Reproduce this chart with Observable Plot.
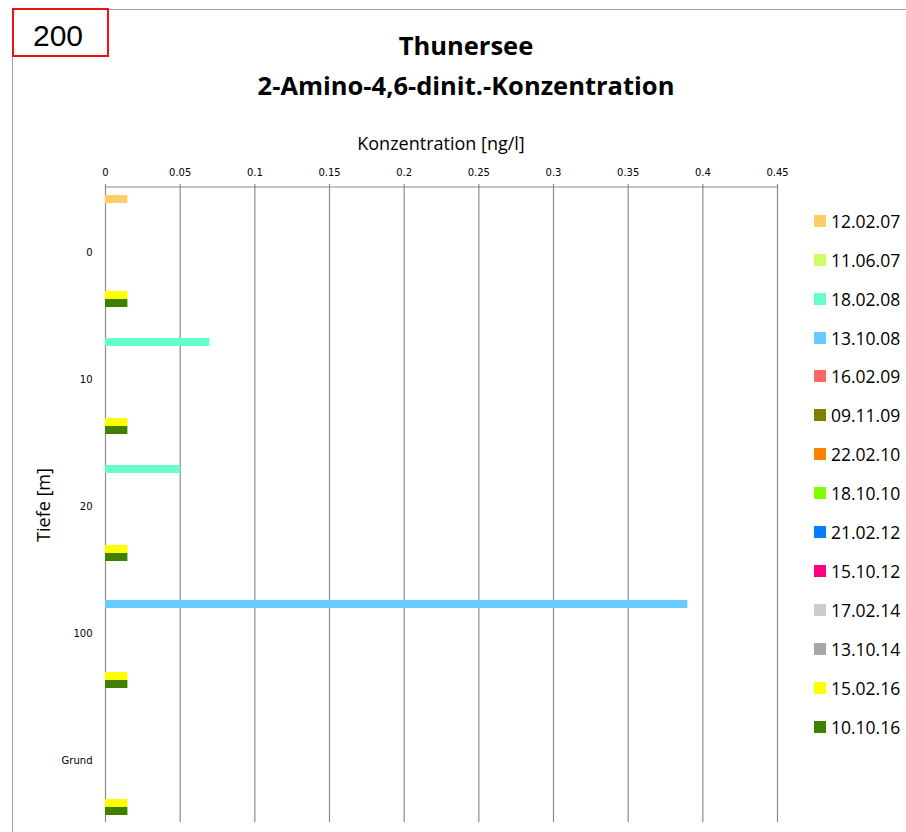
<!DOCTYPE html>
<html>
<head>
<meta charset="utf-8">
<script src="https://cdn.jsdelivr.net/npm/d3@7"></script>
<script src="https://cdn.jsdelivr.net/npm/@observablehq/plot@0.6"></script>
<style>
  html, body { margin: 0; padding: 0; background: #fff; }
  #wrap { position: relative; width: 906px; height: 832px; overflow: hidden; font-family: "Open Sans", sans-serif; color: #000; }
  #chart { position: absolute; left: 0; top: 0; }
  .frameTop { position: absolute; left: 13px; top: 9px; width: 893px; height: 0; border-top: 1.5px solid #a0a0a0; }
  .frameLeft { position: absolute; left: 12px; top: 9px; width: 0; height: 823px; border-left: 1.5px solid #a0a0a0; }
  .badge { position: absolute; left: 12px; top: 8px; width: 93px; height: 45px; border: 2px solid #ee1111; background: #fff;
           font-family: "Liberation Sans", Arial, sans-serif; font-size: 30px; line-height: 45px; box-sizing: content-box; }
  .badge span { position: absolute; left: 19px; top: 3px; }
  .title { position: absolute; left: 0; width: 932px; text-align: center; font-weight: 700; font-size: 25.5px; line-height: 30px; }
  .xlabel { position: absolute; left: 241px; width: 400px; text-align: center; top: 131px; font-size: 18px; line-height: 24px; }
  .ylabel { position: absolute; left: 43px; top: 505px; transform: translate(-50%, -50%) rotate(-90deg); font-size: 18px; white-space: nowrap; }
  .leg { position: absolute; left: 814px; font-size: 17.5px; line-height: 24px; white-space: nowrap; }
  .leg i { position: absolute; left: 0; top: 6px; width: 12px; height: 12px; }
  .leg b { position: absolute; left: 17px; top: 0; font-weight: 400; }
</style>
</head>
<body>
<div id="wrap">
  <div class="frameTop"></div>
  <div class="frameLeft"></div>
  <div class="badge"><span>200</span></div>
  <div class="title" style="top:30px">Thunersee</div>
  <div class="title" style="top:70px">2-Amino-4,6-dinit.-Konzentration</div>
  <div class="xlabel">Konzentration [ng/l]</div>
  <div class="ylabel">Tiefe [m]</div>
  <div id="chart"></div>
  <div id="legend"></div>
</div>
<script>
// Depth categories (y groups)
const depths = ["0", "10", "20", "100", "Grund"];
// Sampling dates (series)
const dates = ["12.02.07", "11.06.07", "18.02.08", "13.10.08", "16.02.09", "09.11.09", "22.02.10",
               "18.10.10", "21.02.12", "15.10.12", "17.02.14", "13.10.14", "15.02.16", "10.10.16"];
const colors = ["#FFCC66", "#CCFF66", "#66FFCC", "#66CCFF", "#FF6666", "#808000", "#FF8000",
                "#80FF00", "#0080FF", "#FF0080", "#CCCCCC", "#A6A6A6", "#FFFF00", "#408000"];
// Concentration per series, one value per depth (0, 10, 20, 100, Grund); null = not shown
const s120207 = [0.015, null, null, null, null];
const s110607 = [null, null, null, null, null];
const s180208 = [null, 0.07, 0.05, null, null];
const s131008 = [null, null, null, 0.39, null];
const s160209 = [null, null, null, null, null];
const s091109 = [null, null, null, null, null];
const s220210 = [null, null, null, null, null];
const s181010 = [null, null, null, null, null];
const s210212 = [null, null, null, null, null];
const s151012 = [null, null, null, null, null];
const s170214 = [null, null, null, null, null];
const s131014 = [null, null, null, null, null];
const s150216 = [0.015, 0.015, 0.015, 0.015, 0.015];
const s101016 = [0.015, 0.015, 0.015, 0.015, 0.015];
const xTicks = [0, 0.05, 0.1, 0.15, 0.2, 0.25, 0.3, 0.35, 0.4, 0.45];

const seriesValues = [s120207, s110607, s180208, s131008, s160209, s091109, s220210,
                      s181010, s210212, s151012, s170214, s131014, s150216, s101016];
const rows = dates.flatMap((date, i) =>
  depths.map((depth, j) => ({date, depth, value: seriesValues[i][j]})).filter(d => d.value != null));

const chart = Plot.plot({
  width: 906,
  height: 832,
  marginTop: 187,
  marginBottom: 10,
  marginLeft: 105,
  marginRight: 129,
  style: {background: "transparent", overflow: "visible"},
  x: {domain: [0, 0.45], axis: null},
  y: {domain: dates, paddingInner: 0, paddingOuter: 0.74, axis: null},
  fy: {domain: depths, padding: 0, axis: null},
  color: {domain: dates, range: colors},
  marks: [
    Plot.gridX(xTicks, {stroke: "#8c8c8c", strokeOpacity: 1, strokeWidth: 1.2}),
    Plot.barX(rows, {x: "value", y: "date", fy: "depth", fill: "date"}),
    Plot.axisX(xTicks, {anchor: "top", tickSize: 4, tickPadding: 8, stroke: "#8c8c8c", strokeWidth: 1.2,
      fontSize: 10, fontFamily: "DejaVu Sans", fill: "#000", label: null,
      tickFormat: d => String(+d.toFixed(2))}),
    Plot.axisFy({anchor: "left", tickSize: 0, tickPadding: 13, dy: 2, fontSize: 10, fontFamily: "DejaVu Sans", label: null})
  ]
});
document.getElementById("chart").appendChild(chart);

// axis line along the top of the plot area, using the plot's own x scale
const xs = chart.scale("x");
d3.select(chart).append("line")
  .attr("x1", xs.apply(0)).attr("x2", xs.apply(0.45))
  .attr("y1", 187).attr("y2", 187)
  .attr("stroke", "#8c8c8c").attr("stroke-width", 1.2);

// legend
const legend = d3.select("#legend");
dates.forEach((d, i) => {
  const item = legend.append("div").attr("class", "leg").style("top", (220.8 + 38.9 * i - 12) + "px");
  item.append("i").style("background", colors[i]);
  item.append("b").text(d);
});
</script>
</body>
</html>
